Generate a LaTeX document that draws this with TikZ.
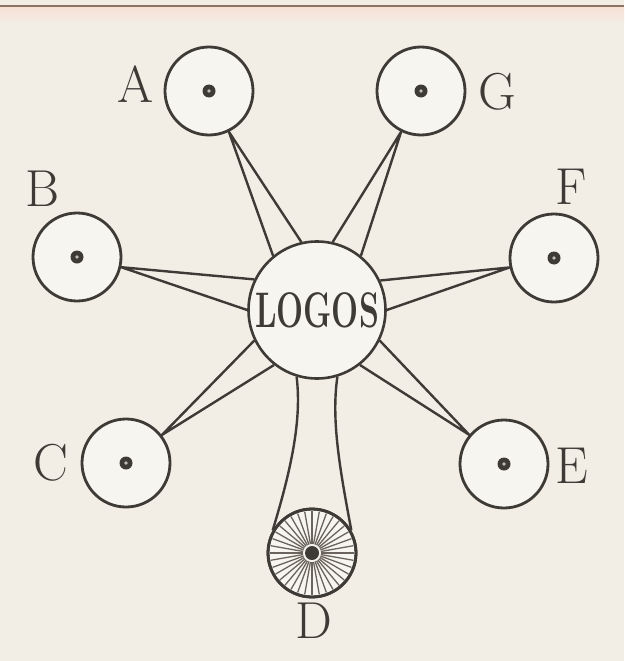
\documentclass[tikz,border=0pt]{standalone}
\usetikzlibrary{calc}
\definecolor{paper}{HTML}{F2EEE6}
\definecolor{ink}{HTML}{3E3A35}
\definecolor{disc}{HTML}{F7F5F0}
\definecolor{rim}{HTML}{8C7462}
\definecolor{blush}{HTML}{F6E1D6}
\definecolor{ray}{HTML}{6A645C}
\tikzset{orb/.style={circle,draw=ink,line width=2.8pt,fill=disc,minimum size=88pt,inner sep=0pt}, hub/.style={circle,draw=ink,line width=2.6pt,fill=disc,minimum size=137pt,inner sep=0pt,text=ink,font=\fontsize{50}{50}\selectfont\bfseries}, lbl/.style={text=ink,inner sep=0pt,font=\fontsize{52}{52}\selectfont}, tie/.style={draw=ink,line width=2.4pt,line join=round}, pip/.style={circle,fill=ink,minimum size=13pt,inner sep=0pt}}

\begin{document}
\begin{tikzpicture}[x=1pt,y=-1pt]
\fill[paper] (0,0) rectangle (624,661);
\useasboundingbox (0,0) rectangle (624,661);
\fill[rim] (0,5) rectangle (624,8);
\shade[top color=blush,bottom color=paper] (0,8) rectangle (624,24);
% wheels round the centre
\node[hub] (L) at (317,310) {\scalebox{0.64}[1]{LOGOS}};
\node[orb] (A) at (209,91) {};
\node[orb] (G) at (421,91) {};
\node[orb] (B) at (77,257) {};
\node[orb] (F) at (554,258) {};
\node[orb] (C) at (126,463) {};
\node[orb] (E) at (504,464) {};
\node[orb] (D) at (312,553) {};
% letters
\node[lbl] (la) at (136,84) {A};
\node[lbl] (lg) at (497,92) {G};
\node[lbl] (lb) at (43,189) {B};
\node[lbl] (lf) at (571,187) {F};
\node[lbl] (lc) at (51,463) {C};
\node[lbl] (le) at (572,466) {E};
\node[lbl] (ld) at (314,621) {D};
% spokes
\foreach \o in {A,B,C,E,F,G}{
  \draw[tie] let \p1=($(\o)-(L)$), \n1={atan2(\y1,\x1)}, \n2={\n1+13}, \n3={\n1-13}, \n4={\n1+180} in (L.\n2) -- (\o.\n4) -- (L.\n3);
  \node[pip] at (\o) {};
  \fill[disc!70!ink] (\o) circle (1.8);
}
% the stem down to D
\draw[tie] (L.-107) .. controls (302,420) and (291,470) .. (D.150);
\draw[tie] (L.-73) .. controls (331,420) and (340,470) .. (D.30);
\foreach \a in {0,10,...,350}
  \draw[ray,line width=1.3pt] ($(D)+(\a:9)$) -- ($(D)+(\a:42)$);
\draw[ink,line width=2.8pt] (D) circle (44);
\node[pip,minimum size=14pt] at (D) {};
\end{tikzpicture}
\end{document}
